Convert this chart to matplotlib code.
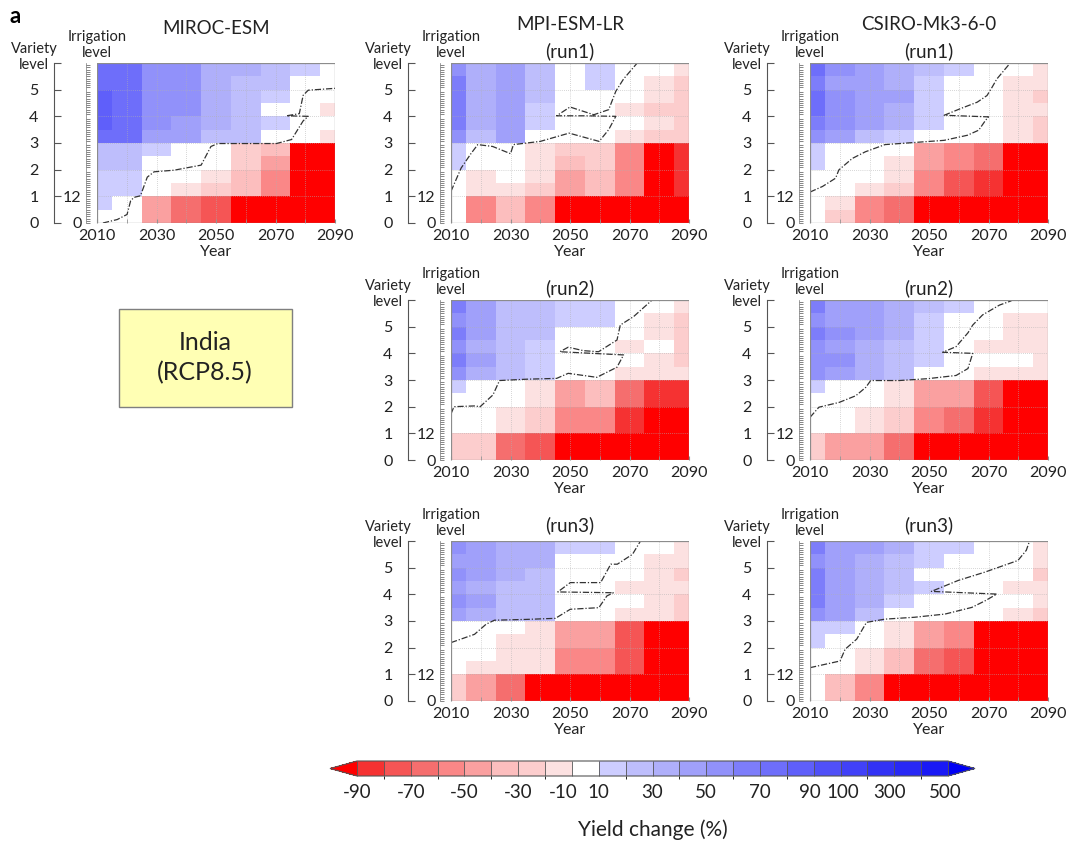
import numpy as np
import matplotlib
matplotlib.use("Agg")
import matplotlib.pyplot as plt
from matplotlib.cm import ScalarMappable
from matplotlib.colors import BoundaryNorm, ListedColormap
from matplotlib.patches import Rectangle
from matplotlib.transforms import ScaledTranslation

plt.rcParams["font.family"] = ["Lato", "DejaVu Sans"]
plt.rcParams["axes.unicode_minus"] = False

# decade blocks (years) and half variety-level rows, top row first
YEAR_EDGES = [2010, 2015, 2025, 2035, 2045, 2055, 2065, 2075, 2085, 2090]
LEVEL_EDGES = [6, 5.5, 5, 4.5, 4, 3.5, 3, 2.5, 2, 1.5, 1, 0.5, 0]
BOUNDS = [-90, -80, -70, -60, -50, -40, -30, -20, -10, 10, 20, 30, 40, 50,
          60, 70, 80, 90, 100, 200, 300, 400, 500]
CBAR_TICKS = [-90, -70, -50, -30, -10, 10, 30, 50, 70, 90, 100, 300, 500]
YEAR_TICKS = [2010, 2030, 2050, 2070, 2090]

# yield change (%) per cell
MIROC_ESM = [
    [75, 75, 55, 55, 35, 35, 25, 15, 0],
    [75, 75, 55, 55, 35, 25, 25, 0, 0],
    [85, 75, 55, 55, 35, 25, 15, 0, 0],
    [85, 75, 55, 55, 35, 25, 0, 0, -15],
    [85, 75, 55, 45, 35, 25, 15, 0, 0],
    [75, 75, 45, 45, 25, 25, 0, 0, -15],
    [25, 25, 15, 0, 0, -25, -35, -95, -95],
    [25, 25, 0, 0, 0, -25, -45, -95, -95],
    [15, 15, 0, 0, -15, -35, -55, -95, -95],
    [15, 15, 0, -15, -25, -35, -55, -95, -95],
    [15, 0, -45, -65, -75, -95, -95, -95, -95],
    [0, 0, -45, -65, -75, -95, -95, -95, -95],
]
MPI_RUN1 = [
    [55, 35, 45, 25, 0, 15, 0, 0, -15],
    [65, 35, 45, 25, 0, 15, 0, -15, -25],
    [65, 35, 45, 25, 0, 0, 0, -15, -25],
    [65, 35, 45, 15, 0, 0, -15, -25, -25],
    [65, 35, 45, 15, 0, 0, 0, -15, -25],
    [55, 25, 45, 0, 0, 0, -15, -25, -25],
    [15, 0, 0, -15, -25, -25, -55, -95, -85],
    [15, 0, 0, -15, -35, -25, -55, -95, -85],
    [0, -15, 0, -15, -45, -35, -55, -95, -85],
    [0, -15, -15, -25, -45, -35, -55, -95, -85],
    [0, -55, -35, -55, -95, -95, -95, -95, -95],
    [0, -55, -35, -55, -95, -95, -95, -95, -95],
]
MPI_RUN2 = [
    [65, 45, 25, 25, 15, 15, 0, 0, -15],
    [55, 45, 25, 25, 15, 15, 0, -15, -25],
    [65, 45, 25, 25, 0, 0, 0, -15, -25],
    [55, 35, 25, 15, 0, 0, -15, 0, -25],
    [65, 45, 25, 15, 0, 0, 0, -15, -25],
    [55, 35, 25, 15, 0, 0, -15, -15, -15],
    [15, 0, 0, -15, -45, -35, -65, -85, -85],
    [0, 0, 0, -15, -45, -35, -65, -85, -85],
    [0, 0, -15, -25, -55, -55, -85, -95, -95],
    [0, 0, -15, -25, -55, -55, -85, -95, -95],
    [-25, -25, -65, -75, -95, -95, -95, -95, -95],
    [-25, -25, -65, -75, -95, -95, -95, -95, -95],
]
MPI_RUN3 = [
    [55, 45, 35, 35, 15, 15, 0, 0, -15],
    [45, 45, 35, 35, 0, 0, 0, -15, -15],
    [55, 45, 35, 25, 0, 0, 0, -15, -25],
    [45, 35, 25, 25, 0, 0, -15, -15, -15],
    [55, 45, 25, 25, 0, 0, 0, -15, -25],
    [45, 35, 25, 25, 0, 0, -15, -15, -25],
    [0, 0, 0, -15, -45, -45, -75, -95, -95],
    [0, 0, -15, -15, -45, -45, -75, -95, -95],
    [0, 0, -15, -15, -55, -55, -75, -95, -95],
    [0, -15, -15, -15, -55, -55, -75, -95, -95],
    [-25, -45, -65, -95, -95, -95, -95, -95, -95],
    [-25, -45, -65, -95, -95, -95, -95, -95, -95],
]
CSIRO_RUN1 = [
    [75, 55, 45, 35, 25, 15, 0, 0, -15],
    [65, 45, 45, 35, 15, 0, 0, -15, -15],
    [75, 55, 45, 45, 15, 0, 0, -15, -25],
    [75, 55, 45, 35, 15, 0, 0, -15, -15],
    [65, 55, 45, 35, 15, 0, 0, -15, -25],
    [55, 45, 25, 15, 0, 0, 0, -15, -25],
    [15, 0, 0, 0, -45, -55, -65, -95, -95],
    [15, 0, 0, -15, -45, -55, -65, -95, -95],
    [0, 0, 0, -15, -55, -75, -85, -95, -95],
    [0, 0, -15, -25, -55, -75, -85, -95, -95],
    [0, -15, -55, -65, -95, -95, -95, -95, -95],
    [0, -25, -55, -65, -95, -95, -95, -95, -95],
]
CSIRO_RUN2 = [
    [65, 45, 45, 35, 25, 15, 0, 0, 0],
    [55, 45, 45, 35, 15, 0, 0, -15, -15],
    [65, 55, 45, 35, 15, 0, 0, -15, -15],
    [55, 45, 35, 25, 15, 0, -15, -15, -15],
    [55, 55, 35, 25, 15, 0, 0, 0, -15],
    [55, 45, 35, 25, 0, 0, -15, -15, -15],
    [15, 0, 0, -15, -45, -45, -75, -95, -95],
    [0, 0, 0, -15, -45, -45, -75, -95, -95],
    [0, 0, -15, -25, -55, -65, -85, -95, -95],
    [0, 0, -15, -25, -55, -65, -85, -95, -95],
    [-25, -45, -45, -65, -95, -95, -95, -95, -95],
    [-25, -45, -45, -65, -95, -95, -95, -95, -95],
]
CSIRO_RUN3 = [
    [65, 45, 45, 35, 15, 15, 0, 0, -15],
    [55, 45, 35, 25, 15, 0, 0, 0, -15],
    [65, 45, 35, 25, 0, 0, 0, 0, -25],
    [65, 45, 35, 25, 15, 0, 0, -15, -15],
    [65, 45, 35, 15, 0, 0, 0, 0, -15],
    [55, 45, 25, 0, 0, 0, 0, -15, -25],
    [15, 15, 0, -15, -45, -55, -95, -95, -95],
    [15, 0, 0, -15, -45, -55, -95, -95, -95],
    [0, 0, -15, -35, -65, -75, -95, -95, -95],
    [0, 0, -15, -35, -65, -75, -95, -95, -95],
    [0, -35, -55, -95, -95, -95, -95, -95, -95],
    [0, -35, -55, -95, -95, -95, -95, -95, -95],
]

# zero-change contour (year, variety level)
MIROC_ZERO_X = [2012, 2016.8, 2020.1, 2021.3, 2022.4, 2024.6, 2026.9, 2029.2,
                2035.9, 2045, 2048.3, 2050.6, 2061.8, 2070.3, 2075.4, 2079.3,
                2081, 2073.7, 2078, 2079.3, 2081, 2090]
MIROC_ZERO_Y = [0.0, 0.13, 0.32, 0.83, 0.96, 1.02, 1.72, 1.92, 1.98, 2.17,
                2.87, 2.98, 2.98, 2.98, 3.13, 3.83, 4.0, 4.02, 4.1, 4.79,
                4.98, 5.05]
MPI1_ZERO_X = [2010, 2013.4, 2016.7, 2019, 2024, 2030, 2031, 2040, 2049.7,
               2059.8, 2063, 2065.4, 2055, 2045.5, 2050, 2058, 2063, 2065.4,
               2068, 2072.6]
MPI1_ZERO_Y = [1.19, 2.06, 2.6, 2.94, 2.87, 2.6, 2.94, 3.06, 3.37, 3.06, 3.5,
               4.0, 4.02, 4.02, 4.35, 4.06, 4.25, 4.94, 5.4, 6.0]
MPI2_ZERO_X = [2010, 2011, 2018.5, 2019.6, 2024.1, 2026.3, 2035.4, 2045.5,
               2049.4, 2059, 2065.8, 2068, 2046.6, 2049.4, 2054.5, 2059.6,
               2065.8, 2066.9, 2071.4, 2077.6]
MPI2_ZERO_Y = [1.73, 2.0, 2.03, 1.98, 2.44, 2.98, 3.03, 3.06, 3.25, 3.1,
               3.48, 3.94, 4.06, 4.23, 4.1, 4.06, 4.5, 5.06, 5.38, 6.0]
MPI3_ZERO_X = [2010, 2017.9, 2021.8, 2024.6, 2035.4, 2045.1, 2050.1, 2059.7,
               2062.4, 2064.6, 2045.9, 2050.1, 2060.3, 2063.7, 2065.9, 2071,
               2073.7]
MPI3_ZERO_Y = [2.19, 2.5, 2.88, 3.03, 3.06, 3.1, 3.44, 3.5, 3.94, 4.06, 4.09,
               4.44, 4.44, 5.13, 5.13, 5.5, 6.0]
CSIRO1_ZERO_X = [2010, 2014.2, 2018.6, 2019.7, 2024.2, 2028.6, 2035.2, 2045.2,
                 2055.1, 2062.9, 2066.7, 2069, 2070, 2055.1, 2060.6, 2066.2,
                 2069.5, 2071.2, 2072.8, 2077.3]
CSIRO1_ZERO_Y = [1.16, 1.37, 1.68, 1.99, 2.42, 2.67, 2.94, 3.02, 3.1, 3.29,
                 3.48, 3.85, 3.98, 4.04, 4.29, 4.53, 4.78, 5.09, 5.4, 6.0]
CSIRO2_ZERO_X = [2010, 2013, 2019.8, 2025.4, 2028.8, 2030.4, 2040, 2049.6,
                 2059.1, 2063.1, 2064.7, 2054.6, 2059.1, 2063.1, 2064.7, 2068,
                 2073.7, 2077.7]
CSIRO2_ZERO_Y = [1.6, 1.98, 2.16, 2.41, 2.73, 2.98, 2.98, 3.05, 3.17, 3.43,
                 4.0, 4.04, 4.25, 4.77, 5.06, 5.44, 5.81, 5.97]
CSIRO3_ZERO_X = [2010, 2020.1, 2021.8, 2025.7, 2029, 2035.2, 2045.1, 2055.4,
                 2064.4, 2068.9, 2072.8, 2050.8, 2059.8, 2068.7, 2079.9,
                 2082.7, 2083.8]
CSIRO3_ZERO_Y = [1.25, 1.5, 1.94, 2.32, 2.95, 3.07, 3.14, 3.26, 3.51, 3.76,
                 4.01, 4.11, 4.52, 4.83, 5.27, 5.65, 6.0]

REDS = ["#f53232", "#f55555", "#f56e6e", "#fa8787", "#faa0a0", "#fcbebe",
        "#fccdcd", "#fce1e1"]
BLUES = ["#cdcdff", "#bebefc", "#afaffa", "#a0a0fa", "#9191fa", "#7d7dfa",
         "#6e6efa", "#5f5ffa", "#5050f8", "#4141f8", "#3232f5", "#2828f5",
         "#1919f5"]
FRAME = "#8c8c8c"
INK = "#222222"

W, H = 1067, 848
PW, PH = 238, 160
COLS = [97, 451, 810]
ROWS = [63, 300, 541]

cmap = ListedColormap(REDS + ["#ffffff"] + BLUES)
cmap.set_under("#ff0000")
cmap.set_over("#0000f5")
norm = BoundaryNorm(BOUNDS, cmap.N)

fig = plt.figure(figsize=(W / 100, H / 100), dpi=100)


def rect(x0, y0, x1, y1):
    return [x0 / W, 1 - y1 / H, (x1 - x0) / W, (y1 - y0) / H]


def ftext(px, py, s, **kw):
    fig.text(px / W, 1 - py / H, s, ha="center", va="center", color=INK, **kw)


def panel(col, row, values, zx, zy, titles):
    x0, y0 = COLS[col], ROWS[row]
    ax = fig.add_axes(rect(x0, y0, x0 + PW, y0 + PH))
    ax.pcolormesh(YEAR_EDGES, LEVEL_EDGES, np.array(values), cmap=cmap,
                  norm=norm, shading="flat", antialiased=False)
    for yr in range(2020, 2090, 10):
        ax.axvline(yr, color="#b0b0b0", lw=0.5, ls=(0, (1, 2)))
    for lv in range(1, 6):
        ax.axhline(lv, color="#b0b0b0", lw=0.5, ls=(0, (1, 2)))
    ax.plot(zx, zy, color="#333333", lw=0.9, ls=(0, (5, 1.5, 1, 1.5)))
    ax.set_xlim(2010, 2090)
    ax.set_ylim(0, 6)
    ax.add_patch(Rectangle((0, 0), 1, 1, transform=ax.transAxes, fill=False,
                           ec=FRAME, lw=0.9, zorder=5))
    for side in ("top", "right", "bottom"):
        ax.spines[side].set_visible(False)

    ax.set_xticks(YEAR_TICKS)
    ax.set_xticks(range(2020, 2090, 20), minor=True)
    ax.tick_params(axis="x", which="both", direction="in", length=3,
                   color=FRAME, labelsize=11.5, pad=4, labelcolor=INK)

    # irrigation ruler
    ax.spines["left"].set_position(("outward", 8))
    ax.spines["left"].set_color("#777777")
    ax.spines["left"].set_linewidth(0.5)
    ax.set_yticks([0, 1], ["0", "12"])
    ax.set_yticks([k / 12 for k in range(73) if k % 12], minor=True)
    ax.tick_params(axis="y", which="both", direction="in", length=3,
                   width=0.5, color="#555555", labelsize=11.5, pad=3,
                   labelcolor=INK)

    # variety level axis
    av = ax.twinx()
    av.set_ylim(0, 6)
    av.yaxis.tick_left()
    av.set_yticks(range(7), ["0", "1", "2", "3", "4", "5", ""])
    for side in ("top", "right", "bottom"):
        av.spines[side].set_visible(False)
    av.spines["left"].set_visible(True)
    av.spines["left"].set_position(("outward", 31))
    av.spines["left"].set_color("#555555")
    av.tick_params(axis="y", direction="in", length=5, color="#555555",
                   labelsize=11.5, pad=11, labelcolor=INK)

    ftext(x0 - 63, y0 - 6, "Variety\nlevel", fontsize=10.5, linespacing=1.15)
    ftext(x0, y0 - 18, "Irrigation\nlevel", fontsize=10.5, linespacing=1.15)
    ftext(x0 + PW / 2, y0 + PH + 29, "Year", fontsize=11.5)
    for ty, s in titles:
        ftext(x0 + PW / 2, ty, s, fontsize=13.5)


panel(0, 0, MIROC_ESM, MIROC_ZERO_X, MIROC_ZERO_Y, [(28, "MIROC-ESM")])
panel(1, 0, MPI_RUN1, MPI1_ZERO_X, MPI1_ZERO_Y,
      [(24, "MPI-ESM-LR"), (51, "(run1)")])
panel(1, 1, MPI_RUN2, MPI2_ZERO_X, MPI2_ZERO_Y, [(288, "(run2)")])
panel(1, 2, MPI_RUN3, MPI3_ZERO_X, MPI3_ZERO_Y, [(525, "(run3)")])
panel(2, 0, CSIRO_RUN1, CSIRO1_ZERO_X, CSIRO1_ZERO_Y,
      [(24, "CSIRO-Mk3-6-0"), (51, "(run1)")])
panel(2, 1, CSIRO_RUN2, CSIRO2_ZERO_X, CSIRO2_ZERO_Y, [(288, "(run2)")])
panel(2, 2, CSIRO_RUN3, CSIRO3_ZERO_X, CSIRO3_ZERO_Y, [(525, "(run3)")])

fig.text(10 / W, 1 - 6 / H, "a", fontsize=16, fontweight="bold", va="top",
         color="black")

fig.add_artist(Rectangle((119 / W, 1 - 407 / H), 173 / W, 98 / H,
                         transform=fig.transFigure, fc="#ffffb4",
                         ec="#7f7f7f", lw=1))
ftext(205, 358, "India\n(RCP8.5)", fontsize=18, linespacing=1.35)

cax = fig.add_axes(rect(330, 761, 975, 776))
cb = fig.colorbar(ScalarMappable(norm=norm, cmap=cmap), cax=cax,
                  orientation="horizontal", extend="both", extendfrac=0.0457,
                  drawedges=True, ticks=CBAR_TICKS)
cb.ax.tick_params(length=0, labelsize=13.5, pad=6, labelcolor=INK)
cb.outline.set_edgecolor("#555555")
cb.outline.set_linewidth(0.8)
cb.dividers.set_color("#555555")
cb.dividers.set_linewidth(0.6)
# nudge crowded labels apart, as in the original
for lab, dx in zip(cb.ax.get_xticklabels(), [0, 0, 0, 0, -9, 0, 0, 0, 0, -4, 2, -5, -3]):
    if dx:
        lab.set_transform(lab.get_transform()
                          + ScaledTranslation(dx / 100, 0, fig.dpi_scale_trans))
ftext(653, 830, "Yield change (%)", fontsize=15)

fig.savefig("out.png", dpi=100)
